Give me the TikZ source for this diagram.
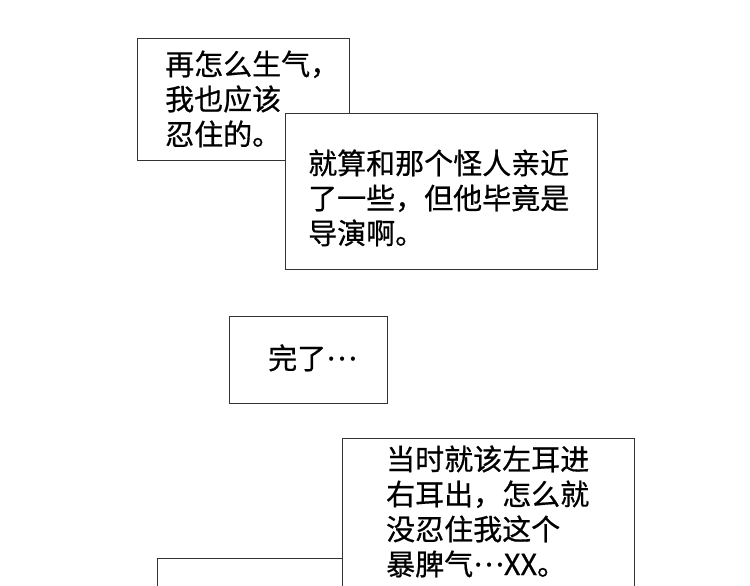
\documentclass[tikz,border=0pt]{standalone}
\usepackage{fontspec}
\newfontfamily\cjk{Noto Sans CJK SC}[FakeBold=0.6]
\newcommand{\middots}{\raisebox{0.3em}{…}}
\begin{document}
\begin{tikzpicture}[x=1pt,y=-1pt,
  panel/.style={draw=black!80,line width=1.4pt,fill=white,anchor=north west,inner sep=0pt},
  txtb/.style={anchor=base west,inner sep=0pt,align=left,font=\cjk\fontsize{29}{35}\selectfont}]
\useasboundingbox (0,0) rectangle (750,586);
\clip (0,0) rectangle (750,586);
\fill[white] (0,0) rectangle (750,586);
% boxes
\node[panel,minimum width=212pt,minimum height=122pt] (box1) at (137,38) {};
\node[panel,minimum width=312pt,minimum height=156pt] (box2) at (285,113) {};
\node[panel,minimum width=158pt,minimum height=87pt] (box3) at (229,316) {};
\node[panel,minimum width=440pt,minimum height=80pt] (box5) at (157,558) {};
\node[panel,minimum width=292pt,minimum height=200pt] (box4) at (342,438) {};
% texts (anchor = baseline of last line)
\node[txtb] (t1) at (165,145) {再怎么生气，\\我也应该\\忍住的。};
\node[txtb] (t2) at (308,244) {就算和那个怪人亲近\\了一些，但他毕竟是\\导演啊。};
\node[txtb] (t3) at (268,369) {完了\middots};
\node[txtb] (t4) at (386,575) {当时就该左耳进\\右耳出，怎么就\\没忍住我这个\\暴脾气\middots XX。};
\end{tikzpicture}
\end{document}
